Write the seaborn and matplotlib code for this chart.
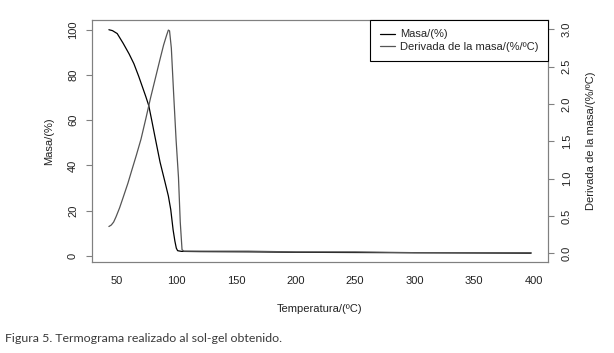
import matplotlib
matplotlib.use("Agg")
import numpy as np
import pandas as pd
import seaborn as sns
import matplotlib.pyplot as plt

# mass curve, left axis (%)
mass_temp = [43, 46, 50, 55, 60, 64, 68, 71, 74, 76.5, 79, 82, 86, 90, 93, 95,
             97, 98.5, 99.7, 100.8, 104, 120, 160, 200, 250, 300, 350, 398]
mass_pct = [100, 99.6, 98.3, 94, 89.3, 85, 79.5, 75, 70.5, 66.5, 60, 52, 41.5, 33,
            26.5, 20.5, 11.5, 6.5, 3.4, 2.3, 2.0, 1.9, 1.8, 1.6, 1.5, 1.4, 1.3, 1.2]

# derivative curve, right axis (%/ºC)
deriv_temp = [43, 45, 47, 49, 52, 55, 59, 62, 66, 70, 74, 78, 82, 86, 89, 91.5,
              93, 94, 95.5, 97.5, 99.5, 101.5, 103, 104.5, 106, 120, 160, 200,
              250, 300, 350, 398]
deriv_val = [0.36, 0.38, 0.42, 0.49, 0.61, 0.75, 0.94, 1.1, 1.31, 1.53, 1.8, 2.08,
             2.34, 2.6, 2.79, 2.92, 2.99, 2.98, 2.75, 2.12, 1.52, 1.02, 0.42, 0.05,
             0.03, 0.03, 0.03, 0.02, 0.02, 0.01, 0.01, 0.01]

x_ticks = [50, 100, 150, 200, 250, 300, 350, 400]
left_ticks = [0, 20, 40, 60, 80, 100]
right_ticks = [0.0, 0.5, 1.0, 1.5, 2.0, 2.5, 3.0]

sns.set_style("white")
plt.rcParams["font.family"] = ["Liberation Sans", "DejaVu Sans"]

fig = plt.figure(figsize=(6.14, 3.53), dpi=100)
ax = fig.add_axes([92 / 614, 1 - 262 / 353, (548 - 92) / 614, (262 - 20) / 353])
ax2 = ax.twinx()

mass_df = pd.DataFrame({"temp": mass_temp, "mass": mass_pct})
deriv_df = pd.DataFrame({"temp": deriv_temp, "deriv": deriv_val})

sns.lineplot(data=mass_df, x="temp", y="mass", ax=ax, color="black", lw=0.9,
             sort=False, label="Masa/(%)", legend=False)
sns.lineplot(data=deriv_df, x="temp", y="deriv", ax=ax2, color="#555555", lw=0.9,
             sort=False, label="Derivada de la masa/(%/ºC)", legend=False)

ax.set_xlim(28.8, 412.2)
ax.set_ylim(-2.7, 104.3)
ax2.set_ylim(-0.115, 3.125)

ax.set_xticks(x_ticks)
ax.set_yticks(left_ticks)
ax2.set_yticks(right_ticks)
ax.set_xticklabels([str(t) for t in x_ticks])
ax.set_yticklabels([str(t) for t in left_ticks], rotation=90, va="center")
ax2.set_yticklabels([f"{t:.1f}" for t in right_ticks], rotation=90, va="center")

for a in (ax, ax2):
    a.tick_params(length=4, width=0.8, color="#808080", labelsize=8,
                  labelcolor="#222222", pad=6)
    for s in a.spines.values():
        s.set_color("#808080")
        s.set_linewidth(0.8)

ax.set_xlabel("Temperatura/(ºC)", fontsize=8, color="#222222", labelpad=13)
ax.set_ylabel("Masa/(%)", fontsize=8, color="#222222", labelpad=10)
ax2.set_ylabel("Derivada de la masa/(%/ºC)", fontsize=8, color="#222222",
               labelpad=10, rotation=90)

handles = ax.get_lines()[:1] + ax2.get_lines()[:1]
leg = ax2.legend(handles, [h.get_label() for h in handles], loc="upper right",
                 bbox_to_anchor=(1, 1), borderaxespad=0, fancybox=False,
                 framealpha=1, edgecolor="black", fontsize=8, handlelength=1.4,
                 labelspacing=0.2, borderpad=0.85, handletextpad=0.45)
leg.get_frame().set_linewidth(0.8)

fig.text(0.008, 0.042, "Figura 5. Termograma realizado al sol-gel obtenido.",
         fontsize=8.9, color="#3a3a3a", family=["Lato", "DejaVu Sans"], va="center")

fig.savefig("out.png", dpi=100, facecolor="white")
